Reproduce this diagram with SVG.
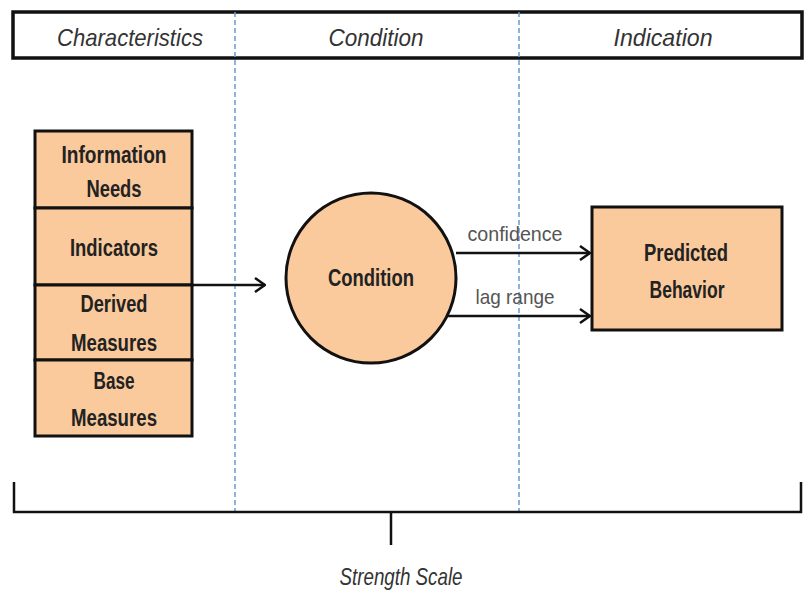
<svg xmlns="http://www.w3.org/2000/svg" width="806" height="593" viewBox="0 0 806 593">
<defs>
<style>
.hdr{font-family:"Liberation Sans",Arial,sans-serif;font-style:italic;font-size:24px;fill:#333;text-anchor:middle}
.lbl{font-family:"Liberation Sans",Arial,sans-serif;font-weight:bold;font-size:23px;fill:#222;text-anchor:middle}
.edge{font-family:"Liberation Sans",Arial,sans-serif;font-size:21px;fill:#555;text-anchor:middle}
.node{fill:#fac99c;stroke:#111;stroke-width:3}
.conn{stroke:#111;stroke-width:2.5;fill:none}
.dash{stroke:#6a9bd1;stroke-width:1.5;stroke-dasharray:5,3;fill:none}
</style>
<marker id="arr" viewBox="0 0 12 16" refX="11" refY="8" markerWidth="12" markerHeight="16" markerUnits="userSpaceOnUse" orient="auto">
<path d="M1,1 L11,8 L1,15" fill="none" stroke="#111" stroke-width="2.5"/>
</marker>
</defs>
<rect width="806" height="593" fill="#fff"/>
<g id="header">
<rect x="13" y="12" width="789" height="46" fill="#fff" stroke="#111" stroke-width="3.5"/>
<text class="hdr" x="130" y="46" textLength="146" lengthAdjust="spacingAndGlyphs">Characteristics</text>
<text class="hdr" x="376" y="46" textLength="95" lengthAdjust="spacingAndGlyphs">Condition</text>
<text class="hdr" x="663" y="46" textLength="99" lengthAdjust="spacingAndGlyphs">Indication</text>
</g>
<g id="dividers">
<line class="dash" x1="235" y1="12" x2="235" y2="512"/>
<line class="dash" x1="519" y1="12" x2="519" y2="512"/>
</g>
<g id="stack">
<g id="n-info"><rect class="node" x="35" y="131" width="157" height="77"/>
<text class="lbl" x="114" y="163" textLength="105" lengthAdjust="spacingAndGlyphs">Information</text>
<text class="lbl" x="114" y="197" textLength="55" lengthAdjust="spacingAndGlyphs">Needs</text></g>
<g id="n-indicators"><rect class="node" x="35" y="208" width="157" height="77"/>
<text class="lbl" x="114" y="256" textLength="88" lengthAdjust="spacingAndGlyphs">Indicators</text></g>
<g id="n-derived"><rect class="node" x="35" y="285" width="157" height="75"/>
<text class="lbl" x="114" y="312" textLength="67" lengthAdjust="spacingAndGlyphs">Derived</text>
<text class="lbl" x="114" y="351" textLength="86" lengthAdjust="spacingAndGlyphs">Measures</text></g>
<g id="n-base"><rect class="node" x="35" y="360" width="157" height="76"/>
<text class="lbl" x="114" y="389" textLength="41" lengthAdjust="spacingAndGlyphs">Base</text>
<text class="lbl" x="114" y="426" textLength="86" lengthAdjust="spacingAndGlyphs">Measures</text></g>
</g>
<g id="n-condition">
<circle class="node" cx="371" cy="278" r="85"/>
<text class="lbl" x="371" y="286" textLength="86" lengthAdjust="spacingAndGlyphs">Condition</text>
</g>
<g id="n-predicted">
<rect class="node" x="592" y="207" width="190" height="123"/>
<text class="lbl" x="686" y="261" textLength="84" lengthAdjust="spacingAndGlyphs">Predicted</text>
<text class="lbl" x="687" y="298" textLength="75" lengthAdjust="spacingAndGlyphs">Behavior</text>
</g>
<g id="connectors">
<line class="conn" x1="192" y1="285" x2="265" y2="285" marker-end="url(#arr)"/>
<line class="conn" x1="456" y1="253" x2="590" y2="253" marker-end="url(#arr)"/>
<line class="conn" x1="446" y1="316" x2="590" y2="316" marker-end="url(#arr)"/>
<text class="edge" x="515" y="241" textLength="95" lengthAdjust="spacingAndGlyphs">confidence</text>
<text class="edge" x="515" y="304" textLength="79" lengthAdjust="spacingAndGlyphs">lag range</text>
</g>
<g id="scale">
<path class="conn" d="M14,482 V512 H801 V482" stroke-width="3"/>
<line class="conn" x1="391" y1="512" x2="391" y2="545" stroke-width="2.5"/>
<text class="hdr" x="401" y="585" font-size="21" textLength="123" lengthAdjust="spacingAndGlyphs">Strength Scale</text>
</g>
</svg>
